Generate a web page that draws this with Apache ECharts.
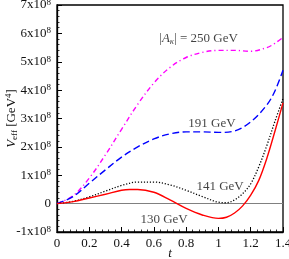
<!DOCTYPE html>
<html>
<head>
<meta charset="utf-8">
<script src="https://cdn.jsdelivr.net/npm/echarts@6/dist/echarts.min.js"></script>
<style>
html,body{margin:0;padding:0;background:#fff;}
#c{width:289px;height:259px;}
</style>
</head>
<body>
<div id="c"></div>
<script>
// values in units of 1e8 GeV^4
const tMagenta = [0,0.1,0.2,0.3,0.4,0.5,0.6,0.7,0.8,0.9,1.0,1.1,1.2,1.3,1.35,1.4];
const vMagenta = [0,0.28,0.90,1.72,2.62,3.50,4.25,4.80,5.15,5.33,5.40,5.40,5.37,5.50,5.65,5.86];

const tBlue = [0,0.1,0.2,0.3,0.4,0.5,0.6,0.7,0.8,0.9,1.0,1.1,1.2,1.3,1.35,1.4];
const vBlue = [0,0.25,0.72,1.19,1.64,2.00,2.28,2.46,2.53,2.53,2.51,2.56,2.88,3.48,3.97,4.70];

const tBlack = [0,0.1,0.2,0.3,0.4,0.5,0.6,0.7,0.8,0.9,1.0,1.05,1.1,1.15,1.2,1.25,1.3,1.35,1.4];
const vBlack = [0,0.08,0.24,0.44,0.64,0.76,0.76,0.66,0.47,0.25,0.05,0.03,0.13,0.35,0.70,1.30,2.05,2.90,3.70];

const tRed = [0,0.1,0.2,0.3,0.4,0.45,0.5,0.6,0.7,0.8,0.9,1.0,1.05,1.1,1.15,1.2,1.25,1.3,1.35,1.4];
const vRed = [0,0.07,0.20,0.33,0.47,0.50,0.50,0.40,0.13,-0.17,-0.40,-0.52,-0.48,-0.33,-0.08,0.30,0.82,1.60,2.55,3.55];

const annotText = ['|{i|A}{k|κ}| = 250 GeV', '191 GeV', '141 GeV', '130 GeV'];
const annotT = [0.877, 0.96, 1.01, 0.663];
const annotV = [5.83, 2.83, 0.60, -0.57];

const xTicks = [0, 1.4, 0.2];   // min, max, interval
const yTicks = [-1, 7, 1];

const FONT = '"Liberation Serif", "DejaVu Serif", serif';
const TXT = '#111';

function pairs(ts, vs){ return ts.map((t,i)=>[t, vs[i]]); }

const chart = echarts.init(document.getElementById('c'), null, {renderer:'canvas'});

const lineSeries = (name, ts, vs, color, dash, width) => ({
  name, type:'line', data: pairs(ts, vs), smooth: 0.35, showSymbol:false, symbol:'none',
  lineStyle:{color, width, type: dash}, silent:true, z:3
});

chart.setOption({
  animation:false,
  grid:{left:57, right:6, top:5, bottom:27, containLabel:false, outerBoundsMode:'none',
    show:true, borderColor:'#000', borderWidth:1.3, backgroundColor:'transparent'},
  xAxis:{
    type:'value', min:xTicks[0], max:xTicks[1], interval:xTicks[2],
    axisLine:{show:true, onZero:false, lineStyle:{color:'#000', width:1.3}},
    axisTick:{show:true, inside:true, length:5, lineStyle:{color:'#000', width:1}},
    minorTick:{show:true, splitNumber:5, length:2.5, lineStyle:{color:'#000', width:0.8}},
    splitLine:{show:false},
    axisLabel:{fontFamily:FONT, fontSize:13, color:TXT, margin:5},
    name:'t', nameLocation:'middle', nameGap:15, nameMoveOverlap:false,
    nameTextStyle:{fontFamily:FONT, fontSize:13, fontStyle:'italic', color:TXT}
  },
  yAxis:{
    type:'value', min:yTicks[0], max:yTicks[1], interval:yTicks[2],
    axisLine:{show:true, lineStyle:{color:'#000', width:1.3}},
    axisTick:{show:true, inside:true, length:5, lineStyle:{color:'#000', width:1}},
    minorTick:{show:true, splitNumber:5, length:2.5, lineStyle:{color:'#000', width:0.8}},
    splitLine:{show:false},
    axisLabel:{
      fontFamily:FONT, fontSize:13, color:TXT, margin:6,
      formatter: v => v === 0 ? '{b|0}' : '{b|' + v + 'x10}{s|8}',
      rich:{
        b:{fontFamily:FONT, fontSize:13, color:TXT},
        s:{fontFamily:FONT, fontSize:9, color:TXT, verticalAlign:'top', padding:[0,0,5,0]}
      }
    },
    name:'{v|V}{e|eff} [GeV{s|4}]', nameLocation:'middle', nameGap:37, nameMoveOverlap:false,
    nameTextStyle:{
      fontFamily:FONT, fontSize:13, color:TXT,
      rich:{
        v:{fontFamily:FONT, fontSize:13, fontStyle:'italic', color:TXT},
        e:{fontFamily:FONT, fontSize:9, color:TXT, padding:[6,0,0,0]},
        s:{fontFamily:FONT, fontSize:9, color:TXT, padding:[0,0,7,0]}
      }
    }
  },
  series:[
    lineSeries('magenta', tMagenta, vMagenta, '#ff00ff', [5,3,1.2,3], 1.4),
    lineSeries('blue', tBlue, vBlue, '#0000ff', [7,3.5], 1.4),
    lineSeries('black', tBlack, vBlack, '#000000', [1.2,1.8], 1.3),
    Object.assign(lineSeries('red', tRed, vRed, '#ff0000', 'solid', 1.4), {
      markLine:{silent:true, symbol:'none', label:{show:false},
        lineStyle:{color:'#808080', width:1, type:'solid'}, data:[{yAxis:0}], z:1}
    }),
    {
      type:'scatter', symbolSize:0, silent:true, z:5,
      data: annotText.map((s,i)=>({value:[annotT[i], annotV[i]], name:s})),
      label:{
        show:true, position:'inside', formatter: p => p.name,
        fontFamily:FONT, fontSize:13, color:TXT,
        rich:{
          i:{fontFamily:FONT, fontSize:13, fontStyle:'italic', color:TXT},
          k:{fontFamily:FONT, fontSize:9, fontStyle:'italic', color:TXT, padding:[6,0,0,0]}
        }
      }
    }
  ]
});
</script>
</body>
</html>
